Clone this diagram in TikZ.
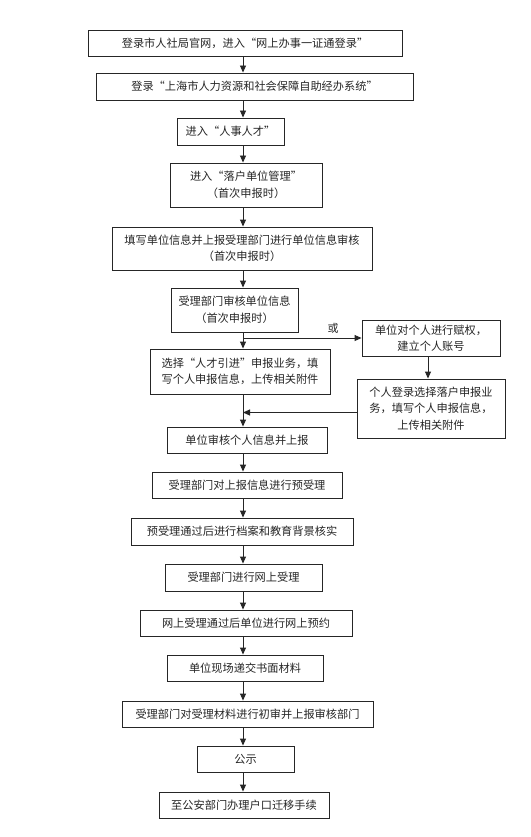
\documentclass[tikz,border=0pt]{standalone}
\usepackage{fontspec}
\setmainfont{Noto Sans CJK SC}
\usetikzlibrary{arrows.meta}
\begin{document}
\begin{tikzpicture}[x=1pt,y=-1pt,
  box/.style={draw=black!85,line width=0.9pt,inner sep=0pt,align=center,
    font=\fontsize{11.2}{16.5}\selectfont,text=black!85},
  arr/.style={line width=0.9pt,draw=black!85,-{Triangle[length=7pt,width=6pt]}},
  ln/.style={line width=0.9pt,draw=black!85}]
\useasboundingbox (0,0) rectangle (530,837);
\fill[white] (0,0) rectangle (530,837);
\coordinate (spine) at (243,0);
\coordinate (rsp) at (428,0);
\node[box,minimum width=314,minimum height=26] (b1) at (245,43) {登录市人社局官网，进入“网上办事一证通登录”};
\node[box,minimum width=317,minimum height=27] (b2) at (254.5,86.5) {登录“上海市人力资源和社会保障自助经办系统”};
\node[box,minimum width=107,minimum height=27] (b3) at (230.5,131.5) {进入“人事人才”};
\node[box,minimum width=152,minimum height=44] (b4) at (246,185) {进入“落户单位管理”\\（首次申报时）};
\node[box,minimum width=260,minimum height=43] (b5) at (242,248.5) {填写单位信息并上报受理部门进行单位信息审核\\（首次申报时）};
\node[box,minimum width=127,minimum height=44] (b6) at (234.5,310) {受理部门审核单位信息\\（首次申报时）};
\node[box,minimum width=138,minimum height=36] (bA) at (431,338) {单位对个人进行赋权，\\建立个人账号};
\node[box,minimum width=180,minimum height=45] (b7) at (240,371.5) {选择“人才引进”申报业务，填\\写个人申报信息，上传相关附件};
\node[box,minimum width=148,minimum height=59] (bB) at (431,408.5) {个人登录选择落户申报业\\务，填写个人申报信息，\\上传相关附件};
\node[box,minimum width=160,minimum height=26] (b8) at (247,440) {单位审核个人信息并上报};
\node[box,minimum width=190,minimum height=26] (b9) at (247,485) {受理部门对上报信息进行预受理};
\node[box,minimum width=222,minimum height=27] (b10) at (242,531.5) {预受理通过后进行档案和教育背景核实};
\node[box,minimum width=157,minimum height=27] (b11) at (243.5,577.5) {受理部门进行网上受理};
\node[box,minimum width=212,minimum height=26] (b12) at (246,623) {网上受理通过后单位进行网上预约};
\node[box,minimum width=156,minimum height=26] (b13) at (245,668) {单位现场递交书面材料};
\node[box,minimum width=251,minimum height=26] (b14) at (247.5,714) {受理部门对受理材料进行初审并上报审核部门};
\node[box,minimum width=97,minimum height=26] (b15) at (245.5,759) {公示};
\node[box,minimum width=170,minimum height=26] (b16) at (244,805) {至公安部门办理户口迁移手续};
\foreach \a/\b in {b1/b2,b2/b3,b3/b4,b4/b5,b5/b6,b6/b7,b7/b8,b8/b9,b9/b10,b10/b11,b11/b12,b12/b13,b13/b14,b14/b15,b15/b16}
  \draw[arr] (\a.south -| spine) -- (\b.north -| spine);
\coordinate (fork) at (spine |- bA.west);
\draw[arr] (fork) -- node[above,font=\fontsize{11}{13}\selectfont,text=black!85,pos=0.76,yshift=1pt] {或} (bA.west);
\draw[arr] (bA.south -| rsp) -- (bB.north -| rsp);
\coordinate (bBin) at ([yshift=-4pt]bB.west);
\draw[arr] (bBin) -- (spine |- bBin);
\end{tikzpicture}
\end{document}
